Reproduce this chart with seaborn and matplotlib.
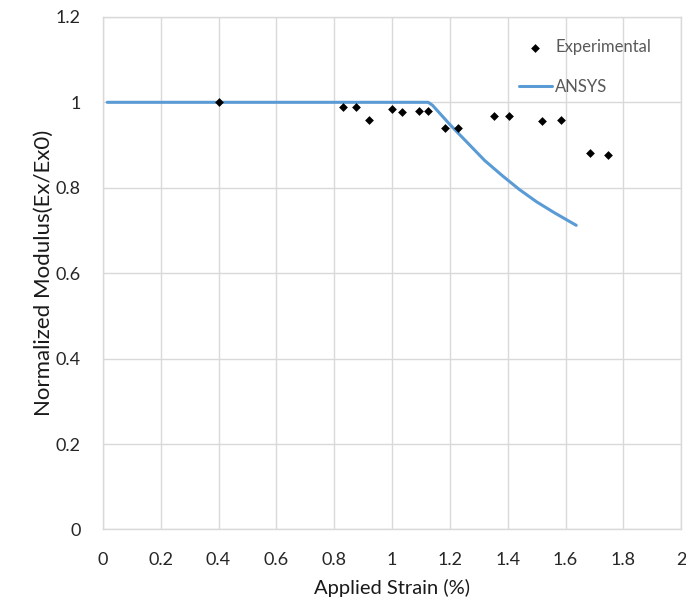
import matplotlib
matplotlib.use("Agg")
import matplotlib.pyplot as plt
import seaborn as sns
import pandas as pd

# Experimental measurements: applied strain (%) vs normalized modulus
exp_strain = [0.40, 0.83, 0.875, 0.92, 1.00, 1.035, 1.093, 1.123, 1.184, 1.227,
              1.353, 1.406, 1.519, 1.585, 1.683, 1.748]
exp_modulus = [1.000, 0.988, 0.989, 0.959, 0.984, 0.977, 0.979, 0.979, 0.939, 0.939,
               0.967, 0.968, 0.957, 0.959, 0.881, 0.876]

# ANSYS simulation curve
ansys_strain = [0.015, 1.125, 1.14, 1.20, 1.26, 1.32, 1.38, 1.44, 1.50, 1.56, 1.637]
ansys_modulus = [1.000, 1.000, 0.993, 0.948, 0.906, 0.864, 0.829, 0.796, 0.767, 0.742, 0.712]

x_ticks = [0, 0.2, 0.4, 0.6, 0.8, 1.0, 1.2, 1.4, 1.6, 1.8, 2.0]
x_labels = ["0", "0.2", "0.4", "0.6", "0.8", "1", "1.2", "1.4", "1.6", "1.8", "2"]
y_ticks = [0, 0.2, 0.4, 0.6, 0.8, 1.0, 1.2]
y_labels = ["0", "0.2", "0.4", "0.6", "0.8", "1", "1.2"]

exp_df = pd.DataFrame({"strain": exp_strain, "modulus": exp_modulus})
ansys_df = pd.DataFrame({"strain": ansys_strain, "modulus": ansys_modulus})

sns.set_theme(style="white")
plt.rcParams["font.family"] = ["Lato", "DejaVu Sans"]

fig = plt.figure(figsize=(6.86, 6.03), dpi=100)
ax = fig.add_axes([0.150, 0.122, 0.843, 0.850])

grid_color = "#d9d9d9"
ax.set_axisbelow(True)
ax.grid(True, color=grid_color, linewidth=1.0)

sns.lineplot(data=ansys_df, x="strain", y="modulus", sort=False, ax=ax,
             color="#5B9BD5", linewidth=2.2, label="ANSYS", zorder=2)
sns.scatterplot(data=exp_df, x="strain", y="modulus", ax=ax, marker="D",
                color="black", s=20, linewidth=0, label="Experimental", zorder=3)

ax.set_xlim(0, 2)
ax.set_ylim(0, 1.2)
ax.set_xticks(x_ticks)
ax.set_xticklabels(x_labels)
ax.set_yticks(y_ticks)
ax.set_yticklabels(y_labels)
ax.tick_params(axis="both", length=0, labelsize=13, colors="#262626")
ax.tick_params(axis="x", pad=16)
ax.tick_params(axis="y", pad=16)

for side, spine in ax.spines.items():
    spine.set_color(grid_color)
    spine.set_linewidth(1.0)

ax.set_xlabel("Applied Strain (%)", fontsize=14.5, color="#1a1a1a", labelpad=8)
ax.set_ylabel("Normalized Modulus(Ex/Ex0)", fontsize=16, color="#1a1a1a", labelpad=1)

handles, labels = ax.get_legend_handles_labels()
order = [labels.index("Experimental"), labels.index("ANSYS")]
leg = ax.legend([handles[i] for i in order], [labels[i] for i in order],
                loc="upper left", bbox_to_anchor=(0.693, 0.986), frameon=False,
                fontsize=12, labelspacing=1.45, handlelength=2.0, handletextpad=0.2)
for t in leg.get_texts():
    t.set_color("#595959")

fig.savefig("out.png", dpi=100)
